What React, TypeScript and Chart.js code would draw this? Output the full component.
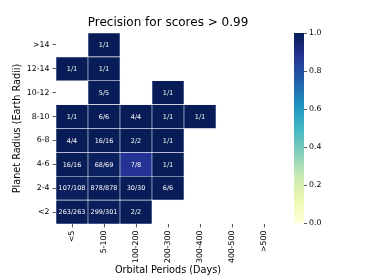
import React, { useEffect, useRef } from "react";
import { Chart, registerables } from "chart.js";

Chart.register(...registerables);

const titleText = "Precision for scores > 0.99";
const xTitle = "Orbital Periods (Days)";
const yTitle = "Planet Radius (Earth Radii)";

const periods = ["<5", "5-100", "100-200", "200-300", "300-400", "400-500", ">500"];
// radius bands from bottom to top
const radii = ["<2", "2-4", "4-6", "6-8", "8-10", "10-12", "12-14", ">14"];

// correct / total per radius band, one entry per orbital period column
const correctLt2 = [263, 299, 2, null, null, null, null];
const totalLt2 = [263, 301, 2, null, null, null, null];
const correct2to4 = [107, 878, 30, 6, null, null, null];
const total2to4 = [108, 878, 30, 6, null, null, null];
const correct4to6 = [16, 68, 7, 1, null, null, null];
const total4to6 = [16, 69, 8, 1, null, null, null];
const correct6to8 = [4, 16, 2, 1, null, null, null];
const total6to8 = [4, 16, 2, 1, null, null, null];
const correct8to10 = [1, 6, 4, 1, 1, null, null];
const total8to10 = [1, 6, 4, 1, 1, null, null];
const correct10to12 = [null, 5, null, 1, null, null, null];
const total10to12 = [null, 5, null, 1, null, null, null];
const correct12to14 = [1, 1, null, null, null, null, null];
const total12to14 = [1, 1, null, null, null, null, null];
const correctGt14 = [null, 1, null, null, null, null, null];
const totalGt14 = [null, 1, null, null, null, null, null];

const correctRows = [correctLt2, correct2to4, correct4to6, correct6to8, correct8to10, correct10to12, correct12to14, correctGt14];
const totalRows = [totalLt2, total2to4, total4to6, total6to8, total8to10, total10to12, total12to14, totalGt14];

const colorbarTicks = [0, 0.2, 0.4, 0.6, 0.8, 1.0];

// YlGnBu colormap stops
const ylgnbu = ["#ffffd9", "#edf8b1", "#c7e9b4", "#7fcdbb", "#41b6c4", "#1d91c0", "#225ea8", "#253494", "#081d58"];

function hexToRgb(h: string) {
  const n = parseInt(h.slice(1), 16);
  return [(n >> 16) & 255, (n >> 8) & 255, n & 255];
}
function cmap(v: number) {
  const t = Math.max(0, Math.min(1, v)) * (ylgnbu.length - 1);
  const i = Math.min(Math.floor(t), ylgnbu.length - 2);
  const f = t - i;
  const a = hexToRgb(ylgnbu[i]);
  const b = hexToRgb(ylgnbu[i + 1]);
  const c = a.map((x, k) => Math.round(x + (b[k] - x) * f));
  return `rgb(${c[0]},${c[1]},${c[2]})`;
}

const FONT = "'DejaVu Sans', sans-serif";
const TEXT = "#000000";

export default function App() {
  const mainRef = useRef<HTMLCanvasElement>(null);
  const barRef = useRef<HTMLCanvasElement>(null);

  useEffect(() => {
    document.body.style.margin = "0";
    Chart.defaults.font.family = FONT;
    Chart.defaults.color = TEXT;

    const datasets = radii.map((r, ri) => ({
      label: r,
      data: periods.map((_, ci) => (totalRows[ri][ci] == null ? null : [ri, ri + 1])),
      backgroundColor: periods.map((_, ci) => {
        const t = totalRows[ri][ci];
        const c = correctRows[ri][ci];
        return t == null ? "rgba(0,0,0,0)" : cmap((c as number) / t);
      }),
      borderColor: "rgba(235,235,245,0.75)",
      borderWidth: 0.6,
      borderSkipped: false,
      barPercentage: 1,
      categoryPercentage: 1,
      grouped: false,
    }));

    const annot = {
      id: "annot",
      afterDatasetsDraw(chart: any) {
        const ctx = chart.ctx;
        ctx.save();
        ctx.fillStyle = "#ffffff";
        ctx.font = `6.5px ${FONT}`;
        ctx.textAlign = "center";
        ctx.textBaseline = "middle";
        chart.data.datasets.forEach((ds: any, ri: number) => {
          const meta = chart.getDatasetMeta(ri);
          meta.data.forEach((el: any, ci: number) => {
            const t = totalRows[ri][ci];
            if (t == null) return;
            const p = el.getCenterPoint();
            ctx.fillText(`${correctRows[ri][ci]}/${t}`, p.x, p.y + 0.5);
          });
        });
        // title centred on the axes
        const a = chart.chartArea;
        ctx.fillStyle = TEXT;
        ctx.font = `12px ${FONT}`;
        ctx.fillText(titleText, (a.left + a.right) / 2, 23);
        ctx.restore();
      },
    };

    const main = new Chart(mainRef.current!, {
      type: "bar",
      data: { labels: periods, datasets: datasets as any },
      options: {
        animation: false,
        responsive: false,
        layout: { padding: { top: 33, right: 94, left: 0, bottom: 0 } },
        plugins: { legend: { display: false }, tooltip: { enabled: false }, title: { display: false } },
        scales: {
          x: {
            type: "category",
            offset: true,
            grid: { display: true, offset: false, drawOnChartArea: false, drawTicks: true, tickLength: 3.5, color: "#333", lineWidth: 0.8 },
            border: { display: false },
            ticks: { minRotation: 90, maxRotation: 90, autoSkip: false, padding: 3, font: { size: 7.8 }, color: TEXT },
            title: { display: true, text: xTitle, font: { size: 9.7 }, color: TEXT, padding: { top: 0, bottom: 4 } },
            afterFit: (s: any) => { s.height = 56; },
          },
          y: {
            type: "linear",
            min: 0,
            max: radii.length,
            afterBuildTicks: (s: any) => { s.ticks = radii.map((_, i) => ({ value: i + 0.5 })); },
            grid: { display: true, drawOnChartArea: false, drawTicks: true, tickLength: 3.5, color: "#333", lineWidth: 0.8 },
            border: { display: false },
            ticks: { padding: 3, font: { size: 7.8 }, color: TEXT, callback: (v: any) => radii[Math.floor(Number(v))] },
            title: { display: true, text: yTitle, font: { size: 9.7 }, color: TEXT, padding: { top: 12, bottom: 0 } },
            afterFit: (s: any) => { s.width = 56; },
          },
        },
      } as any,
      plugins: [annot],
    });

    const bar = new Chart(barRef.current!, {
      type: "bar",
      data: {
        labels: [""],
        datasets: [{
          data: [[0, 1]] as any,
          barPercentage: 1,
          categoryPercentage: 1,
          borderWidth: 0,
          backgroundColor: (c: any) => {
            const area = c.chart.chartArea;
            if (!area) return ylgnbu[ylgnbu.length - 1];
            const g = c.chart.ctx.createLinearGradient(0, area.bottom, 0, area.top);
            ylgnbu.forEach((col, i) => g.addColorStop(i / (ylgnbu.length - 1), col));
            return g;
          },
        }],
      },
      options: {
        animation: false,
        responsive: false,
        layout: { padding: { top: 33, left: 14, bottom: 57, right: 0 } },
        plugins: { legend: { display: false }, tooltip: { enabled: false } },
        scales: {
          x: { display: false },
          y: {
            position: "right",
            min: 0,
            max: 1,
            afterBuildTicks: (s: any) => { s.ticks = colorbarTicks.map((v) => ({ value: v })); },
            grid: { display: true, drawOnChartArea: false, drawTicks: true, tickLength: 3, color: "#333", lineWidth: 0.8 },
            border: { display: false },
            ticks: { padding: 2, font: { size: 7.8 }, color: TEXT, callback: (v: any) => Number(v).toFixed(1) },
            afterFit: (s: any) => { s.width = 70; },
          },
        },
      } as any,
    });

    return () => {
      main.destroy();
      bar.destroy();
    };
  }, []);

  return (
    <div style={{ position: "relative", width: 374, height: 280, background: "#fff" }}>
      <canvas ref={mainRef} width={374} height={280} style={{ position: "absolute", left: 0, top: 0, width: 374, height: 280 }} />
      <canvas ref={barRef} width={94} height={280} style={{ position: "absolute", left: 280, top: 0, width: 94, height: 280 }} />
    </div>
  );
}
